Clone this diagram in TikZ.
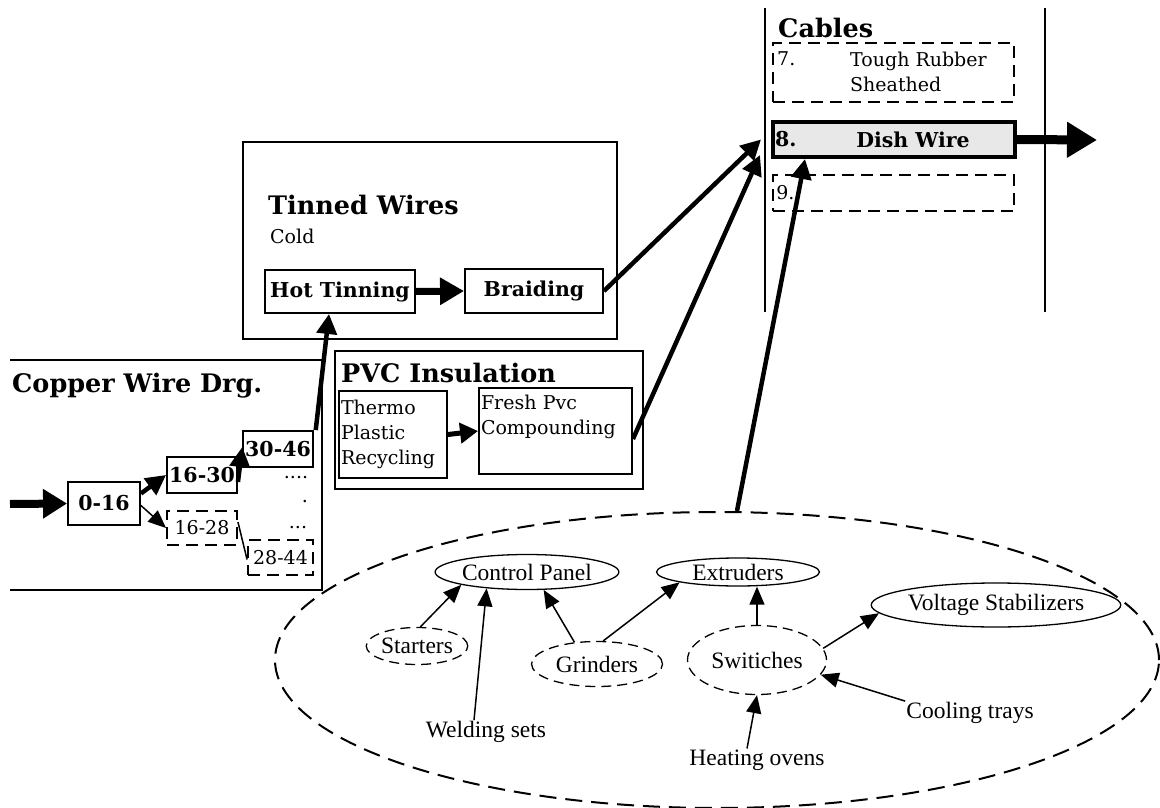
\documentclass[tikz,border=0pt]{standalone}
\usepackage{fontspec}
\setmainfont{DejaVu Serif}
\newfontfamily\timesfont{Liberation Serif}
\usetikzlibrary{arrows.meta,positioning,shapes.geometric}

\newcommand\headfont{\fontsize{25.5}{28}\selectfont\bfseries}
\newcommand\bodyfont{\fontsize{19}{25}\selectfont}
\newcommand\boldfont{\fontsize{20.5}{25}\selectfont\bfseries}
\newcommand\partfont{\timesfont\fontsize{23.5}{26}\selectfont}

\begin{document}
\begin{tikzpicture}[x=1pt,y=-1pt,
  panel/.style={line width=1.3pt},
  box/.style={draw, line width=1.9pt, inner sep=2pt, font=\boldfont},
  dbox/.style={box, dash pattern=on 12pt off 7pt, font=\bodyfont},
  head/.style={font=\headfont, inner sep=0pt},
  body/.style={font=\bodyfont, inner sep=0pt},
  part/.style={ellipse, draw, line width=1.3pt, inner sep=0pt, font=\partfont},
  dpart/.style={part, dash pattern=on 10pt off 6pt},
  tag/.style={font=\partfont, inner sep=1pt},
  fat/.style={-{Triangle[length=20pt,width=20pt]}, line width=4.5pt},
  feed/.style={-{Triangle[length=18pt,width=15pt]}, line width=1.5pt},
]
\useasboundingbox (0,0) rectangle (1160,808);

% === Copper wire drawing ===
\draw[panel] (10,360) -- (322,360) -- (322,590) -- (10,590);
\node[head, anchor=west] (cwd) at (12,386) {Copper Wire Drg.};
\coordinate (feedin) at (10,504);
\node[box, minimum width=72pt, minimum height=43pt] (b016) at (104,503.5) {0-16};
\node[box, minimum width=70pt, minimum height=36pt] (b1630) at (202,475) {16-30};
\node[box, minimum width=60pt, minimum height=36pt] (b3046) at (278,449) {30-46};
\node[dbox, minimum width=70pt, minimum height=34pt] (b1628) at (202,528) {16-28};
\node[dbox, minimum width=65pt, minimum height=35pt] (b2844) at (280.5,557.5) {28-44};
\node[body] (dots1) at (296,478) {....};
\node[body] (dots2) at (305,502) {.};
\node[body] (dots3) at (298,528) {...};

% === Tinned wires ===
\draw[panel] (243,142) rectangle (617,339);
\node[head, anchor=west] (tw) at (268,205) {Tinned Wires};
\node[body, anchor=west] (cold) at (270,236) {Cold};
\node[box, minimum width=150pt, minimum height=43pt] (ht) at (340,291.5) {Hot Tinning};
\node[box, minimum width=138pt, minimum height=44pt] (br) at (534,291) {Braiding};

% === PVC insulation ===
\draw[panel] (335,351) rectangle (643,489);
\node[head, anchor=west] (pvc) at (341,373) {PVC Insulation};
\node[box, font=\bodyfont, align=left, text width=104pt, minimum height=87pt] (tp) at (393,434.5) {Thermo\\Plastic\\Recycling};
\node[box, font=\bodyfont, align=left, text width=149pt, minimum height=86pt] (fp) at (555.5,431) {Fresh Pvc\\Compounding\\\strut};

% === Cables ===
\draw[panel] (765,8) -- (765,312);
\draw[panel] (1045,8) -- (1045,312);
\node[head, anchor=west] (cab) at (778,28) {Cables};
\node[dbox, minimum width=241pt, minimum height=59pt] (c7) at (893.5,72.5) {};
\node[body, anchor=west] (n7) at (777,59) {7.};
\node[body, align=left, anchor=west] (t7) at (850,72) {Tough Rubber\\Sheathed};
\node[box, line width=4pt, fill=gray!18, minimum width=242pt, minimum height=35pt] (c8) at (894,139.5) {};
\node[body, font=\boldfont, anchor=west] (n8) at ([xshift=4]c8.west) {8.};
\node[body, font=\boldfont] (t8) at (913,139.5) {Dish Wire};
\node[dbox, minimum width=241pt, minimum height=36pt] (c9) at (893.5,193) {};
\node[body, anchor=west] (n9) at ([xshift=4]c9.west) {9.};
\coordinate (out) at (1097,140);
\coordinate (cin) at (760,155);

% === Plant and machinery ===
\node[ellipse, draw, line width=2pt, dash pattern=on 17pt off 9pt, minimum width=884pt, minimum height=296pt] (plant) at (717,660) {};
\node[part, minimum width=180pt, minimum height=35pt] (cp) at (527,572) {Control Panel};
\node[part, minimum width=163pt, minimum height=28pt] (ex) at (738,572) {Extruders};
\node[part, minimum width=207pt, minimum height=44pt] (vs) at (996,605) {Voltage Stabilizers};
\node[dpart, minimum width=100pt, minimum height=37pt] (st) at (417,646) {Starters};
\node[dpart, minimum width=131pt, minimum height=45pt] (gr) at (597,664) {Grinders};
\node[dpart, minimum width=139pt, minimum height=69pt] (sw) at (757,660) {Switiches};
\node[tag] (ws) at (486,732) {Welding sets};
\node[tag] (co) at (970,713) {Cooling trays};
\node[tag] (ho) at (757,760) {Heating ovens};

% === Flow ===
\draw[-{Triangle[length=24pt,width=28pt]}, line width=8pt] (feedin) -- (b016.west);
\draw[fat] (b016.east) ++(0,-10) -- (b1630.west);
\draw[feed] ([yshift=-2]b016.east) -- (b1628.west);
\draw[fat] ([yshift=-7]b1630.east) -- ([yshift=2]b3046.west);
\draw[line width=1.5pt] ([yshift=6]b1628.east) -- ([yshift=-2]b2844.west);
\draw[fat] ([xshift=2]b3046.north east) -- ([xshift=-11]ht.south);
\draw[-{Triangle[length=24pt,width=26pt]}, line width=7pt] (ht.east) -- (br.west);
\draw[-{Triangle[length=18pt,width=20pt]}, line width=5pt] (tp.east) -- (fp.west);
\draw[fat] (br.east) -- ([xshift=-10]c8.west);
\draw[fat] ([yshift=-8]fp.east) -- (cin);
\draw[fat] ([xshift=20]plant.north) -- ([xshift=34]c8.south west);
\draw[-{Triangle[length=30pt,width=34pt]}, line width=9pt] (c8.east) -- (out);

\draw[feed] (st.80) -- (cp.191);
\draw[feed] ([xshift=-12]ws.north) -- (cp.202);
\draw[feed] (gr.136) -- (cp.313);
\draw[feed] (gr.75) -- (ex.190);
\draw[feed] (sw.north) -- (sw.north |- ex.south);
\draw[feed] (sw.10) -- (vs.184);
\draw[feed] (co.north west) -- (sw.347);
\draw[feed] ([xshift=-10]ho.north) -- (sw.south);

\end{tikzpicture}
\end{document}
